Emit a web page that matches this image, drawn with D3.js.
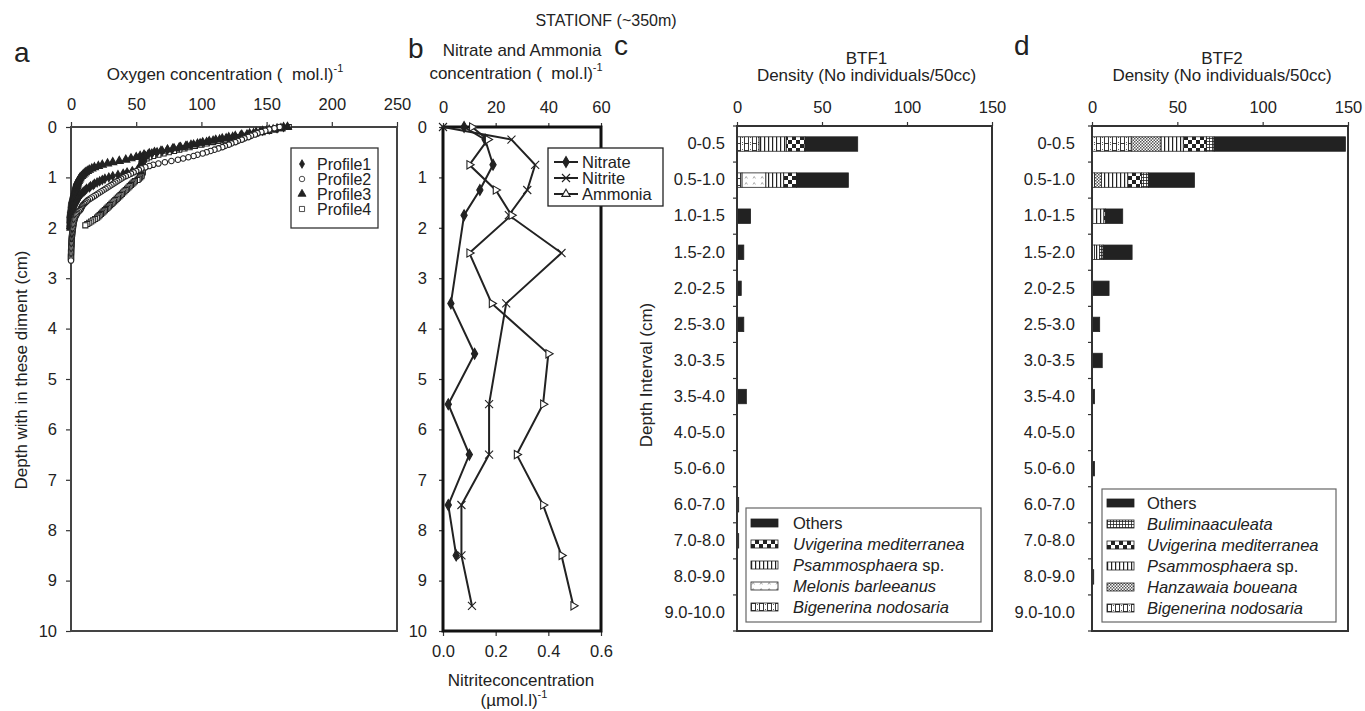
<!DOCTYPE html>
<html>
<head>
<meta charset="utf-8">
<script src="https://cdn.jsdelivr.net/npm/d3@7"></script>
<style>
body{margin:0;background:#fff}
svg{font-family:"Liberation Sans",Arial,sans-serif}
</style>
</head>
<body>
<svg width="1365" height="711"></svg>
<script>
// ---- panel a : oxygen micro profiles (depth cm / umol.l-1)
let o2Depth = [0,0.025,0.05,0.075,0.1,0.125,0.15,0.175,0.2,0.225,
  0.25,0.275,0.3,0.325,0.35,0.375,0.4,0.425,0.45,0.475,
  0.5,0.525,0.55,0.575,0.6,0.625,0.65,0.675,0.7,0.725,
  0.75,0.775,0.8,0.825,0.85,0.875,0.9,0.925,0.95,0.975,
  1,1.025,1.05,1.075,1.1,1.125,1.15,1.175,1.2,1.225,
  1.25,1.275,1.3,1.325,1.35,1.375,1.4,1.425,1.45,1.475,
  1.5,1.525,1.55,1.575,1.6,1.625,1.65,1.675,1.7,1.725,
  1.75,1.775,1.8,1.825,1.85,1.875,1.9,1.925,1.95,1.975,
  2,2.025,2.05,2.075,2.1,2.125,2.15,2.175,2.2,2.225,
  2.25,2.275,2.3,2.325,2.35,2.375,2.4,2.425,2.45,2.475,
  2.5,2.525,2.55,2.575,2.6,2.625,2.65]
let profile1 = [163,158,152,147,142,137,131,126,121,116,
  111,106,101,97,92,88,83,78,74,70,
  66,62,59,57,56,55,55,54,54,54,
  54,53,53,52,51,47,43,40,36,32,
  29,26,24,22,20,18,17,15,14,12,
  11,10,9,8,7,6.5,6,5.5,5,4.5,
  4,3.5,3,2.5,2,1.8,1.5,1.2,1,0.8,
  0.5,0.4,0.3,0.1,0,0,0,0,0,0,
  0]
let profile2 = [160,156,152,149,146,143,141,138,136,133,
  131,128,126,123,121,118,116,113,110,107,
  104,101,97,94,90,86,82,77,72,67,
  63,60,57,54,52,50,48,46,44,42,
  40,38.5,37,35.5,34,32.5,31,29.5,28,26.5,
  25,23.5,22,20.5,19,17.5,16,14.5,13,12,
  11,10,9,8.5,8,7.5,7,6,5,4.5,
  4,3.5,3,2.8,2.5,2.3,2,1.9,1.8,1.6,
  1.5,1.4,1.2,1.1,1,0.9,0.8,0.7,0.6,0.55,
  0.5,0.45,0.4,0.35,0.3,0.25,0.2,0.15,0.1,0.1,
  0.1,0.05,0,0,0,0,0]
let profile3 = [166,161,155,150,145,140,135,130,124,119,
  114,109,104,99,94,89,84,79,74,69,
  64,60,56,53,50,46,42,37,32,28,
  24,21,18,16,14,12.5,11,10,9,8,
  7,6.5,6,5.5,5,4.8,4.5,4.2,4,3.7,
  3.5,3.2,3,2.7,2.5,2.2,2,1.8,1.5,1.3,
  1.2,1.1,1,0.9,0.8,0.6,0.5,0.4,0.3,0.1,
  0,0,0,0,0,0,0,0,0,0,
  0]
let profile4 = [167,162,157,152,147,142,137,132,127,122,
  118,113,109,104,100,95,91,87,83,79,
  75,71,67,63,60,58,56,55,55,55,
  55,55,55,55,55,55,55,54,54,54,
  53,52,51,49,48,47,46,45,44,43,
  42,41,40,39,38,37,36,35,34,33,
  32,31,30,29,28,27,26,25,24,23,
  22,21,20,18.5,17,15.5,14,12.5,11]
let oxTicks = [0,50,100,150,200,250]
let depthTicks = [0,1,2,3,4,5,6,7,8,9,10]

// ---- panel b : nutrients
let nitrateDepth = [0,0.25,0.75,1.25,1.75,3.5,4.5,5.5,6.5,7.5,8.5]
let nitrate = [8,16,19,14,8,3,12,2,10,2,5]
let nitriteDepth = [0,0.25,0.75,1.25,1.75,2.5,3.5,5.5,6.5,7.5,8.5,9.5]
let nitrite = [0,0.26,0.35,0.32,0.25,0.45,0.24,0.175,0.175,0.07,0.07,0.11]
let ammoniaDepth = [0,0.25,0.75,1.25,1.75,2.5,3.5,4.5,5.5,6.5,7.5,8.5,9.5]
let ammonia = [11,17,10,20,26,10,18.5,40,38,28,38,45,49.5]
let nutTicks = [0,20,40,60]
let nitriteTicks = [0,0.2,0.4,0.6]

// ---- panels c, d : foraminifera density (No individuals/50cc)
let depthIntervals = ["0-0.5","0.5-1.0","1.0-1.5","1.5-2.0","2.0-2.5","2.5-3.0","3.0-3.5",
  "3.5-4.0","4.0-5.0","5.0-6.0","6.0-7.0","7.0-8.0","8.0-9.0","9.0-10.0"]
let densityTicks = [0,50,100,150]

let bigenerina1 = [13,3,0,0,0,0,0,0,0,0,0,0,0,0]
let melonis1    = [0,14,0,0,0,0,0,0,0,0,0,0,0,0]
let psammo1     = [16,10.5,0,0,0,0,0,0,0,0,0,0,0,0]
let uvigerina1  = [11,7.5,0,0,0,0,0,0,0,0,0,0,0,0]
let others1     = [31,30.5,8,4,2.5,4,0,5.5,0,0,1,1,0,0]

let bigenerina2 = [23,1.5,0,1.5,0,0,0,0,0,0,0,0,0,0]
let hanzawaia2  = [17.5,4,0,0,0,0,0,0,0,0,0,0,0,0]
let psammo2     = [13,15.5,7,3,0,0,0,0,0,0,0,0,0,0]
let uvigerina2  = [13.5,8,1,0,0,0,0,0,0,0,0,0,0,0]
let bulimina2   = [4.5,4,0,2,0,0,0,0,0,0,0,0,0,0]
let others2     = [77,27,10,17,10,4.5,6,1.5,0,1.5,0,0,1,0]

let ink = '#222'
let svg = d3.select('svg')
let defs = svg.append('defs')

let makePattern = (id, w, h, draw) => {
  let p = defs.append('pattern').attr('id', id)
    .attr('patternUnits', 'userSpaceOnUse').attr('width', w).attr('height', h)
  p.append('rect').attr('width', w).attr('height', h).attr('fill', '#fff')
  draw(p)
}
makePattern('uvi', 8, 8, p => {
  p.append('rect').attr('width', 4).attr('height', 4).attr('fill', ink)
  p.append('rect').attr('x', 4).attr('y', 4).attr('width', 4).attr('height', 4).attr('fill', ink)
})
makePattern('psam', 4, 4, p => {
  p.append('rect').attr('width', 1.2).attr('height', 4).attr('fill', ink)
})
makePattern('mel', 8, 6, p => {
  p.append('path').attr('d', 'M1,4.5l1.2,-2l1.2,2').attr('fill', 'none').attr('stroke', '#888').attr('stroke-width', 0.7)
})
makePattern('big', 8, 7, p => {
  p.append('path').attr('d', 'M0.5,0V7M4.5,0V7M0.5,3.5H4.5M6.5,2.2v0.8M6.5,4.2v0.8')
    .attr('stroke', ink).attr('stroke-width', 0.9)
})
makePattern('bul', 3, 3, p => {
  p.append('path').attr('d', 'M0,0.5H3M0.5,0V3').attr('stroke', ink).attr('stroke-width', 0.8)
})
makePattern('hanz', 3, 3, p => {
  p.append('rect').attr('width', 1.5).attr('height', 1.5).attr('fill', '#555')
  p.append('rect').attr('x', 1.5).attr('y', 1.5).attr('width', 1.5).attr('height', 1.5).attr('fill', '#555')
})

let styleAxis = (g) => {
  g.attr('font-family', null).attr('font-size', 16.5)
  g.select('.domain').remove()
  g.selectAll('.tick text').attr('fill', ink)
  g.selectAll('.tick line').attr('stroke', '#333').attr('stroke-width', 1.2)
}

let addText = (x, y, txt, opts = {}) => {
  let t = svg.append('text').attr('x', x).attr('y', y)
    .attr('text-anchor', opts.anchor || 'middle')
    .attr('font-size', opts.size || 17).attr('fill', ink)
    .style('white-space', 'pre')
  if (opts.rotate) t.attr('transform', `rotate(-90,${x},${y})`)
  t.append('tspan').text(txt)
  if (opts.sup) t.append('tspan').attr('dy', -8).attr('font-size', 11).text(opts.sup)
  return t
}

// ================= panel a
let oxScale = d3.scaleLinear().domain([0, 250]).range([71, 397])
let depthA = d3.scaleLinear().domain([0, 10]).range([127, 631])

svg.append('g').attr('transform', `translate(0,${depthA(0)})`)
  .call(d3.axisTop(oxScale).tickValues(oxTicks).tickSize(5).tickPadding(12)).call(styleAxis)
svg.append('g').attr('transform', `translate(${oxScale(0)},0)`)
  .call(d3.axisLeft(depthA).tickValues(depthTicks).tickSize(5).tickPadding(9)).call(styleAxis)
svg.append('rect').attr('x', oxScale(0)).attr('y', depthA(0))
  .attr('width', oxScale(250) - oxScale(0)).attr('height', depthA(10) - depthA(0))
  .attr('fill', 'none').attr('stroke', '#444').attr('stroke-width', 2)

let profiles = [
  {name: 'Profile1', values: profile1, sym: d3.symbolDiamond, size: 22, fill: ink},
  {name: 'Profile2', values: profile2, sym: d3.symbolCircle, size: 24, fill: '#fff'},
  {name: 'Profile3', values: profile3, sym: d3.symbolTriangle, size: 28, fill: ink},
  {name: 'Profile4', values: profile4, sym: d3.symbolSquare, size: 26, fill: '#fff'}
]
let drawOrder = [profiles[3], profiles[2], profiles[0], profiles[1]]
drawOrder.forEach(p => {
  svg.append('g').selectAll('path')
    .data(p.values.map((v, i) => [v, o2Depth[i]]))
    .enter().append('path')
    .attr('d', d3.symbol(p.sym, p.size))
    .attr('transform', d => `translate(${oxScale(d[0])},${depthA(d[1])})`)
    .attr('fill', p.fill).attr('stroke', ink).attr('stroke-width', 1.1)
})

let legA = svg.append('g')
legA.append('rect').attr('x', 291).attr('y', 148).attr('width', 87).attr('height', 80)
  .attr('fill', '#fff').attr('stroke', '#333').attr('stroke-width', 1.3)
legA.selectAll('g.item').data(profiles).enter().append('g').attr('class', 'item')
  .attr('transform', (d, i) => `translate(302,${164 + i * 15})`)
  .each(function (d) {
    let g = d3.select(this)
    g.append('path').attr('d', d3.symbol(d.sym, d.size)).attr('fill', d.fill)
      .attr('stroke', ink).attr('stroke-width', 0.8)
    g.append('text').attr('x', 15).attr('y', 5.5).attr('font-size', 16).attr('fill', ink).text(d.name)
  })

addText(14, 62, 'a', {anchor: 'start', size: 28})
addText(225, 80, 'Oxygen concentration (  mol.l)', {sup: '-1'})
addText(27, 370, 'Depth with in these diment (cm)', {rotate: true})

// ================= panel b
let nutScale = d3.scaleLinear().domain([0, 60]).range([443, 601])
let nitriteScale = d3.scaleLinear().domain([0, 0.6]).range([443, 601])
let depthB = d3.scaleLinear().domain([0, 10]).range([127, 631])

svg.append('g').attr('transform', `translate(0,${depthB(0)})`)
  .call(d3.axisTop(nutScale).tickValues(nutTicks).tickSize(4).tickPadding(10)).call(styleAxis)
svg.append('g').attr('transform', `translate(0,${depthB(10)})`)
  .call(d3.axisBottom(nitriteScale).tickValues(nitriteTicks).tickFormat(d3.format('.1f')).tickSize(5).tickPadding(9)).call(styleAxis)
svg.append('g').attr('transform', `translate(${nutScale(0)},0)`)
  .call(d3.axisLeft(depthB).tickValues(depthTicks).tickSize(4).tickPadding(12)).call(styleAxis)
svg.append('rect').attr('x', nutScale(0)).attr('y', depthB(0))
  .attr('width', nutScale(60) - nutScale(0)).attr('height', depthB(10) - depthB(0))
  .attr('fill', 'none').attr('stroke', '#111').attr('stroke-width', 3)

let timesPath = 'M-4,-4L4,4M-4,4L4,-4'
let nutSeries = [
  {name: 'Nitrate', depth: nitrateDepth, values: nitrate, scale: nutScale, shape: d3.symbol(d3.symbolDiamond, 34)(), fill: ink, rot: 0},
  {name: 'Nitrite', depth: nitriteDepth, values: nitrite, scale: nitriteScale, shape: timesPath, fill: 'none', rot: 0},
  {name: 'Ammonia', depth: ammoniaDepth, values: ammonia, scale: nutScale, shape: d3.symbol(d3.symbolTriangle, 30)(), fill: '#fff', rot: 90}
]
nutSeries.forEach(s => {
  let pts = s.values.map((v, i) => [v, s.depth[i]])
  let line = d3.line().x(d => s.scale(d[0])).y(d => depthB(d[1]))
  svg.append('path').datum(pts).attr('d', line)
    .attr('fill', 'none').attr('stroke', ink).attr('stroke-width', 2)
  svg.append('g').selectAll('path').data(pts).enter().append('path')
    .attr('d', s.shape)
    .attr('transform', d => `translate(${s.scale(d[0])},${depthB(d[1])}) rotate(${s.rot})`)
    .attr('fill', s.fill).attr('stroke', ink).attr('stroke-width', 1.1)
})

let legB = svg.append('g')
legB.append('rect').attr('x', 548).attr('y', 148).attr('width', 115).attr('height', 58)
  .attr('fill', '#fff').attr('stroke', '#222').attr('stroke-width', 1.3)
legB.selectAll('g.item').data(nutSeries).enter().append('g').attr('class', 'item')
  .attr('transform', (d, i) => `translate(566,${162 + i * 16})`)
  .each(function (d) {
    let g = d3.select(this)
    g.append('line').attr('x1', -12).attr('x2', 12).attr('stroke', ink).attr('stroke-width', 2)
    g.append('path').attr('d', d.shape).attr('fill', d.fill).attr('stroke', ink).attr('stroke-width', 1.1)
    g.append('text').attr('x', 16).attr('y', 6).attr('font-size', 16.5).attr('fill', ink).text(d.name)
  })

addText(408, 58, 'b', {anchor: 'start', size: 28})
addText(522, 56, 'Nitrate and Ammonia')
addText(516, 79, 'concentration (  mol.l)', {sup: '-1'})
addText(521, 686, 'Nitriteconcentration')
addText(514, 706, '(µmol.l)', {sup: '-1'})

// ================= panels c and d
let drawBars = (cfg) => {
  let x = d3.scaleLinear().domain([0, 150]).range([cfg.x0, cfg.x1])
  let y = d3.scaleBand().domain(depthIntervals).range([126, 631]).paddingInner(0.6).paddingOuter(0.3)
  let rows = depthIntervals.map((d, i) => {
    let r = {interval: d}
    cfg.series.forEach(s => { r[s.key] = s.values[i] })
    return r
  })
  let stacked = d3.stack().keys(cfg.series.map(s => s.key))(rows)

  svg.append('g').attr('transform', `translate(0,126)`)
    .call(d3.axisTop(x).tickValues(densityTicks).tickSize(4).tickPadding(9)).call(styleAxis)
  svg.append('g').attr('transform', `translate(${cfg.x0},0)`)
    .call(d3.axisLeft(y).tickSize(0).tickPadding(cfg.pad)).call(styleAxis)
  let bounds = depthIntervals.map(d => y(d) - y.step() * 0.3).concat([y.range()[1]])
  svg.append('g').selectAll('line').data(bounds).enter().append('line')
    .attr('x1', cfg.x0 - 4).attr('x2', cfg.x0).attr('y1', d => d).attr('y2', d => d)
    .attr('stroke', '#333').attr('stroke-width', 1.2)

  stacked.forEach((layer, li) => {
    let s = cfg.series[li]
    svg.append('g').selectAll('rect')
      .data(layer.filter(d => d[1] - d[0] > 0)).enter().append('rect')
      .attr('x', d => x(d[0])).attr('width', d => x(d[1]) - x(d[0]))
      .attr('y', d => y(d.data.interval)).attr('height', y.bandwidth())
      .attr('fill', s.fill).attr('stroke', ink).attr('stroke-width', 0.8)
  })

  svg.append('rect').attr('x', cfg.x0).attr('y', 126)
    .attr('width', cfg.x1 - cfg.x0).attr('height', 631 - 126)
    .attr('fill', 'none').attr('stroke', '#333').attr('stroke-width', 2)

  let leg = svg.append('g')
  leg.append('rect').attr('x', cfg.leg.x).attr('y', cfg.leg.y).attr('width', cfg.leg.w).attr('height', cfg.leg.h)
    .attr('fill', '#fff').attr('stroke', '#666').attr('stroke-width', 1.2)
  let items = cfg.series.slice().reverse()
  leg.selectAll('g.item').data(items).enter().append('g').attr('class', 'item')
    .attr('transform', (d, i) => `translate(${cfg.leg.x + 5},${cfg.leg.first + i * cfg.leg.step})`)
    .each(function (d) {
      let g = d3.select(this)
      g.append('rect').attr('y', -4).attr('width', 27).attr('height', 8)
        .attr('fill', d.fill).attr('stroke', ink).attr('stroke-width', 0.8)
      let t = g.append('text').attr('x', cfg.leg.tx).attr('y', 6).attr('font-size', 16.5).attr('fill', ink)
      t.append('tspan').attr('font-style', d.plain ? 'normal' : 'italic').text(d.label)
      if (d.suffix) t.append('tspan').text(d.suffix)
    })

  addText((cfg.x0 + cfg.x1) / 2 + 2, 64, cfg.title)
  addText((cfg.x0 + cfg.x1) / 2 + 2, 81, 'Density (No individuals/50cc)')
}

drawBars({
  x0: 737, x1: 992, pad: 12, title: 'BTF1',
  leg: {x: 746, y: 508, w: 235, h: 114, first: 523, step: 21, tx: 42},
  series: [
    {key: 'big', values: bigenerina1, fill: 'url(#big)', label: 'Bigenerina nodosaria'},
    {key: 'mel', values: melonis1, fill: 'url(#mel)', label: 'Melonis barleeanus'},
    {key: 'psam', values: psammo1, fill: 'url(#psam)', label: 'Psammosphaera', suffix: ' sp.'},
    {key: 'uvi', values: uvigerina1, fill: 'url(#uvi)', label: 'Uvigerina mediterranea'},
    {key: 'others', values: others1, fill: ink, label: 'Others', plain: true}
  ]
})

drawBars({
  x0: 1092, x1: 1348, pad: 17, title: 'BTF2',
  leg: {x: 1102, y: 489, w: 234, h: 133, first: 503, step: 21, tx: 40},
  series: [
    {key: 'big', values: bigenerina2, fill: 'url(#big)', label: 'Bigenerina nodosaria'},
    {key: 'hanz', values: hanzawaia2, fill: 'url(#hanz)', label: 'Hanzawaia boueana'},
    {key: 'psam', values: psammo2, fill: 'url(#psam)', label: 'Psammosphaera', suffix: ' sp.'},
    {key: 'uvi', values: uvigerina2, fill: 'url(#uvi)', label: 'Uvigerina mediterranea'},
    {key: 'bul', values: bulimina2, fill: 'url(#bul)', label: 'Buliminaaculeata'},
    {key: 'others', values: others2, fill: ink, label: 'Others', plain: true}
  ]
})

addText(614, 55, 'c', {anchor: 'start', size: 28})
addText(1014, 55, 'd', {anchor: 'start', size: 28})
addText(652, 375, 'Depth Interval (cm)', {rotate: true})
addText(606, 26, 'STATIONF (~350m)', {size: 16})
</script>
</body>
</html>
